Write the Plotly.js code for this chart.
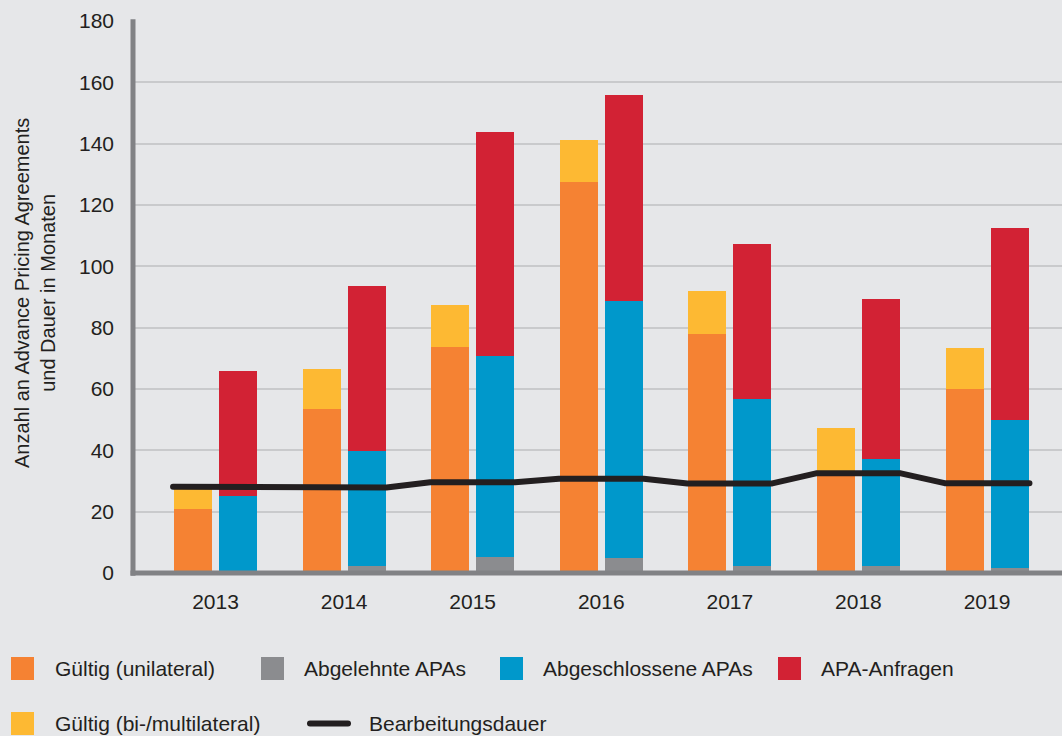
<!DOCTYPE html>
<html>
<head>
<meta charset="utf-8">
<script src="https://cdn.plot.ly/plotly-3.0.1.min.js"></script>
<style>
  html, body { margin: 0; padding: 0; background: #e6e7e9; }
  #chart { width: 1062px; height: 736px; }
  .scatterlayer .js-line { stroke-linecap: round; stroke-linejoin: round; }
</style>
</head>
<body>
<div id="chart"></div>
<script>
// ---- Data ----
const years = ['2013', '2014', '2015', '2016', '2017', '2018', '2019'];
const unilateral   = [21.0, 53.5, 73.7, 127.6, 77.9, 33.0, 60.0];   // Gültig (unilateral)
const bimultilat   = [7.0, 13.0, 13.7, 13.6, 14.0, 14.3, 13.4];     // Gültig (bi-/multilateral)
const rejected     = [0.8, 2.3, 5.2, 4.9, 2.3, 2.3, 1.6];           // Abgelehnte APAs
const concluded    = [24.3, 37.5, 65.6, 83.8, 54.4, 34.9, 48.3];    // Abgeschlossene APAs
const requests     = [40.9, 53.8, 73.0, 67.2, 50.6, 52.1, 62.6];    // APA-Anfragen
const duration     = [28.1, 27.9, 29.6, 30.7, 29.2, 32.5, 29.3];    // Bearbeitungsdauer
const seriesNames  = ['Gültig (unilateral)', 'Abgelehnte APAs', 'Abgeschlossene APAs', 'APA-Anfragen',
                      'Gültig (bi-/multilateral)', 'Bearbeitungsdauer'];
const yTicks = [0, 20, 40, 60, 80, 100, 120, 140, 160, 180];
const yTitle = 'Anzahl an Advance Pricing Agreements<br>und Dauer in Monaten';

// ---- Styling ----
const C = {
  orange: '#f58233', yellow: '#fdb933', grey: '#8b8c8f', blue: '#0098cb', red: '#d22234',
  line: '#231f20', bg: '#e6e7e9', grid: '#c9cacc', axis: '#818285', text: '#231f20'
};
const FONT = "'Liberation Sans', Arial, sans-serif";
const W = 1062, H = 736;
const M = { l: 133, r: 0, t: 21, b: 163 };
const PW = W - M.l - M.r, PH = H - M.t - M.b;
const px = v => (v - M.l) / PW;           // pixel x -> paper
const py = v => (H - M.b - v) / PH;       // pixel y -> paper

const idx = years.map((_, i) => i);
const OFF = 0.175, BW = 0.2955, HALF = 0.33;
const xl = idx.map(i => i - OFF);
const xr = idx.map(i => i + OFF);

function bar(x, y, color, name) {
  return { type: 'bar', x: x, y: y, width: BW, name: name, marker: { color: color, line: { width: 0 } },
           showlegend: false, hoverinfo: 'skip' };
}

const lx = [], ly = [];
idx.forEach(i => { lx.push(i - HALF, i + HALF); ly.push(duration[i], duration[i]); });

const traces = [
  bar(xl, unilateral, C.orange, seriesNames[0]),
  bar(xl, bimultilat, C.yellow, seriesNames[4]),
  bar(xr, rejected, C.grey, seriesNames[1]),
  bar(xr, concluded, C.blue, seriesNames[2]),
  bar(xr, requests, C.red, seriesNames[3]),
  { type: 'scatter', mode: 'lines', x: lx, y: ly, name: seriesNames[5],
    line: { color: C.line, width: 6 }, showlegend: false, hoverinfo: 'skip' }
];

// ---- manual legend ----
const legendItems = [
  { kind: 'box', color: C.orange, name: seriesNames[0], sx: 11, tx: 54, cy: 668.5 },
  { kind: 'box', color: C.grey,   name: seriesNames[1], sx: 261, tx: 303, cy: 668.5 },
  { kind: 'box', color: C.blue,   name: seriesNames[2], sx: 500, tx: 542, cy: 668.5 },
  { kind: 'box', color: C.red,    name: seriesNames[3], sx: 778, tx: 820, cy: 668.5 },
  { kind: 'box', color: C.yellow, name: seriesNames[4], sx: 11, tx: 54, cy: 723.5 },
  { kind: 'line', color: C.line,  name: seriesNames[5], sx: 310, tx: 368, cy: 723.5 }
];

const shapes = [
  // axis lines
  { type: 'line', xref: 'paper', yref: 'paper', x0: 0, x1: 0, y0: -0.005, y1: 1.003,
    line: { color: C.axis, width: 5 }, layer: 'above' },
  { type: 'line', xref: 'paper', yref: 'paper', x0: px(130.5), x1: 1, y0: 0, y1: 0,
    line: { color: C.axis, width: 5 }, layer: 'above' }
];
const annotations = [
  { xref: 'paper', yref: 'paper', x: px(35), y: py(293), text: yTitle, textangle: -90,
    showarrow: false, xanchor: 'center', yanchor: 'middle', align: 'center',
    font: { family: FONT, size: 20, color: C.text } }
];
legendItems.forEach(it => {
  if (it.kind === 'box') {
    shapes.push({ type: 'rect', xref: 'paper', yref: 'paper', x0: px(it.sx), x1: px(it.sx + 23),
      y0: py(it.cy - 11.5), y1: py(it.cy + 11.5), fillcolor: it.color, line: { width: 0 }, layer: 'above' });
  } else {
    shapes.push({ type: 'line', xref: 'paper', yref: 'paper', x0: px(it.sx), x1: px(it.sx + 38),
      y0: py(it.cy), y1: py(it.cy), line: { color: it.color, width: 6 }, layer: 'above' });
  }
  annotations.push({ xref: 'paper', yref: 'paper', x: px(it.tx - 1), y: py(it.cy), text: it.name,
    showarrow: false, xanchor: 'left', yanchor: 'middle',
    font: { family: FONT, size: 21, color: C.text } });
});

const layout = {
  width: W, height: H,
  margin: M,
  paper_bgcolor: C.bg, plot_bgcolor: C.bg,
  barmode: 'stack', bargap: 0,
  font: { family: FONT, size: 21, color: C.text },
  showlegend: false,
  xaxis: {
    type: 'linear', range: [-0.6416, 6.583], tickmode: 'array', tickvals: idx, ticktext: years,
    showgrid: false, zeroline: false, showline: false, ticks: '', ticklabelstandoff: 14,
    tickfont: { family: FONT, size: 21, color: C.text }, fixedrange: true
  },
  yaxis: {
    range: [0, 180], tickmode: 'array', tickvals: yTicks, ticktext: yTicks.map(String),
    showgrid: true, gridcolor: C.grid, gridwidth: 2, zeroline: false, showline: false, ticks: '',
    ticklabelstandoff: 18, tickfont: { family: FONT, size: 21, color: C.text }, fixedrange: true
  },
  shapes: shapes,
  annotations: annotations
};

Plotly.newPlot('chart', traces, layout, { staticPlot: true, displayModeBar: false }).then(() => {
  document.querySelectorAll('.shapelayer path').forEach(p => {
    if (parseFloat(p.style.strokeWidth) === 6) p.style.strokeLinecap = 'round';
  });
});
</script>
</body>
</html>
